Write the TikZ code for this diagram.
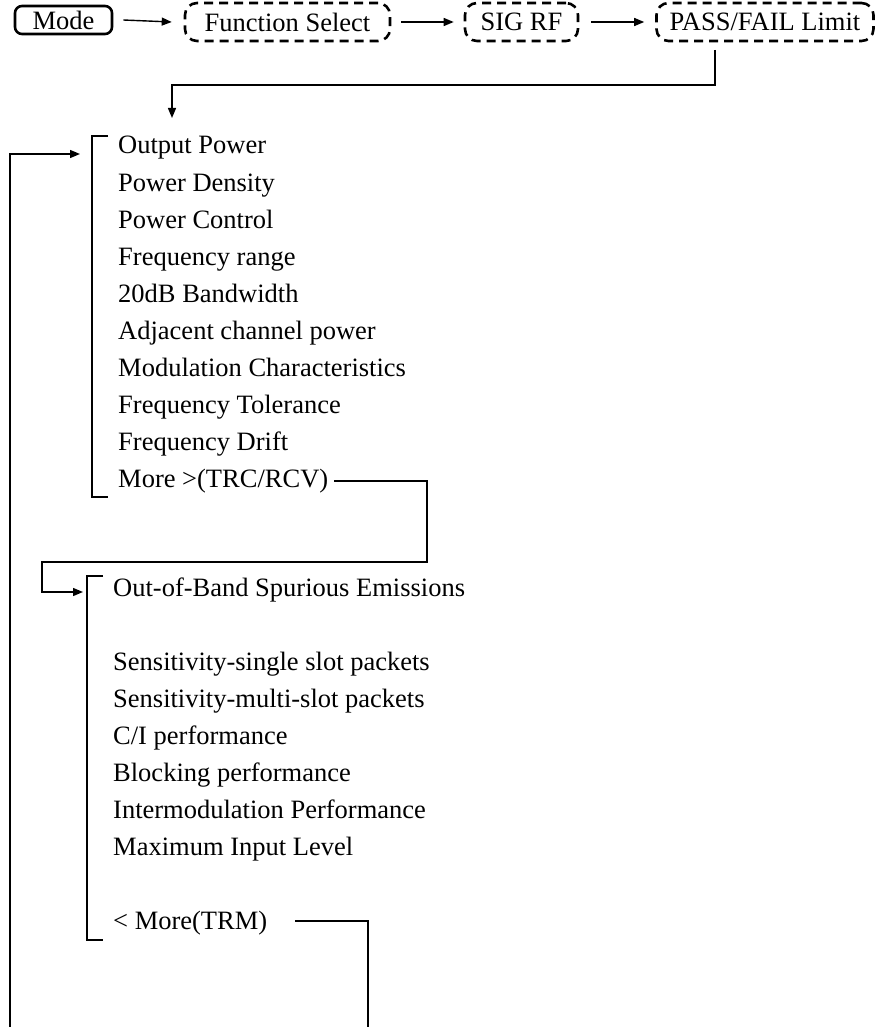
\documentclass[tikz,border=0pt]{standalone}
\usepackage{fontspec}
\setmainfont{Liberation Serif}
\usetikzlibrary{arrows.meta}
\begin{document}
\begin{tikzpicture}[x=1pt,y=-1pt,
  every node/.style={font=\fontsize{26.5}{30}\selectfont},
  item/.style={anchor=base west, inner sep=0pt},
  modebox/.style={draw, line width=2.6pt, rounded corners=7pt, minimum height=28pt, inner sep=0pt},
  dbox/.style={draw, line width=2.6pt, dash pattern=on 9pt off 6pt, rounded corners=12pt, minimum height=38pt, inner sep=0pt},
  conn/.style={line width=1.4pt},
  arr/.style={conn, -{Triangle[length=10pt,width=8pt]}},
  brk/.style={line width=1.1pt}]
\useasboundingbox (0,0) rectangle (878,1027);

% top row
\node[modebox, minimum width=97pt] (mode) at (63.5,20) {Mode};
\node[dbox, minimum width=205pt] (func) at (287.5,22) {Function Select};
\node[dbox, minimum width=113pt] (sig) at (521.5,22) {SIG RF};
\node[dbox, minimum width=217pt] (pass) at (765,22) {PASS/FAIL Limit};

\draw[arr] ([xshift=10pt]mode.east) -- ([xshift=-12pt]func.west);
\draw[arr] ([xshift=10pt]func.east) -- ([xshift=-10pt]sig.west);
\draw[arr] ([xshift=12pt]sig.east) -- ([xshift=-11pt]pass.west);

% list 1
\foreach \t [count=\i] in {Output Power,Power Density,Power Control,Frequency range,20dB Bandwidth,Adjacent channel power,Modulation Characteristics,Frequency Tolerance,Frequency Drift,More >(TRC/RCV)}
  \node[item] (a\i) at (118,{154+37.1*(\i-1)}) {\t};

% list 2
\node[item] (b1) at (113,596) {Out-of-Band Spurious Emissions};
\foreach \t [count=\i from 2] in {Sensitivity-single slot packets,Sensitivity-multi-slot packets,C/I performance,Blocking performance,Intermodulation Performance,Maximum Input Level}
  \node[item] (b\i) at (113,{670+37*(\i-2)}) {\t};
\node[item] (b8) at (113,929) {< More(TRM)};

% brackets
\draw[brk] (108,136) -- (92,136) -- (92,497) -- (108,497);
\draw[brk] (103,576) -- (87,576) -- (87,940) -- (103,940);

% connectors
\coordinate (pdown) at (715,50);
\coordinate (in1) at (172,118);
\draw[arr] (pdown) -- (715,85) -- (172,85) -- (in1);

\coordinate (loopb) at (10,1027);
\coordinate (in1b) at (80,154);
\draw[arr] (loopb) -- (10,154) -- (in1b);

\coordinate (m1) at (334,481);
\coordinate (in2) at (83,592);
\draw[arr] (m1) -- (427,481) -- (427,562) -- (42,562) -- (42,592) -- (in2);

\coordinate (m2) at (295,921);
\draw[conn] (m2) -- (368,921) -- (368,1027);
\end{tikzpicture}
\end{document}
